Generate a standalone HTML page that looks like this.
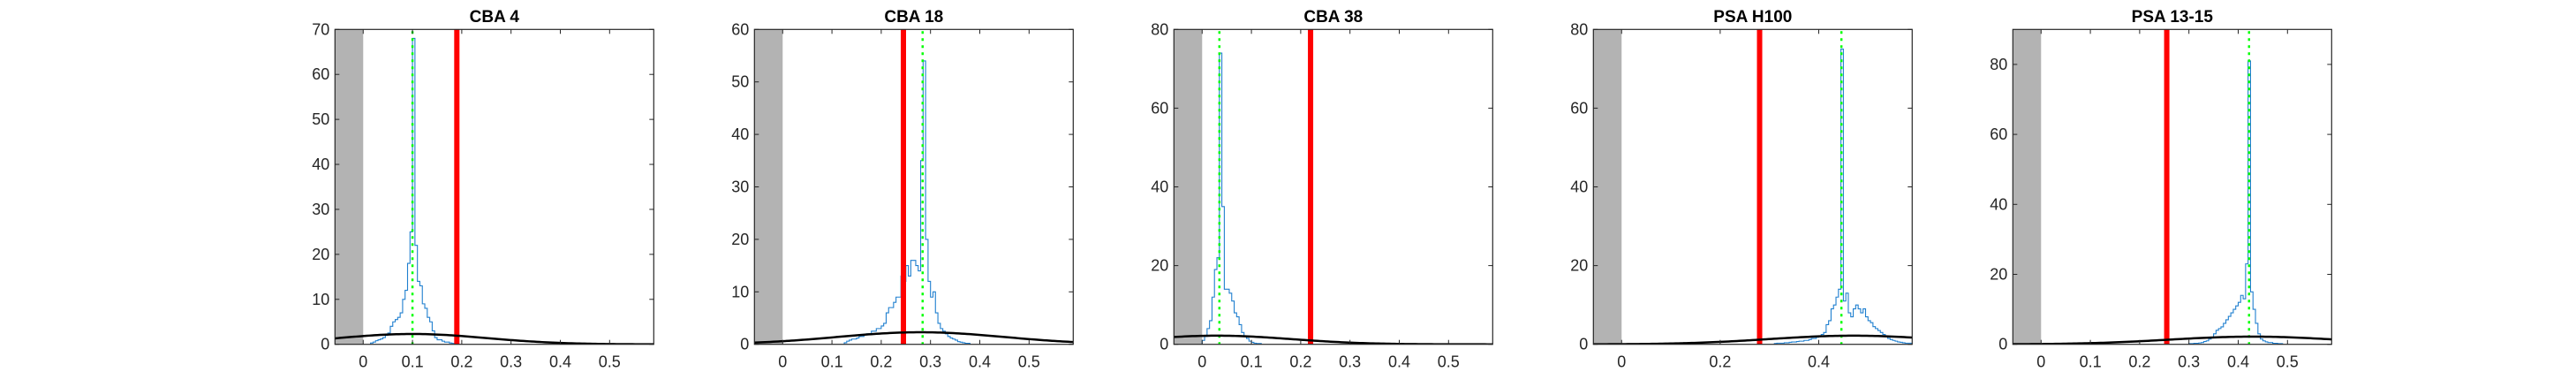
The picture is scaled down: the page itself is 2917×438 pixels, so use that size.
<!DOCTYPE html>
<html><head><meta charset="utf-8">
<style>
body{margin:0;background:#fff;}
svg{display:block;font-family:"Liberation Sans",Arial,sans-serif;}
</style></head>
<body>
<svg id="chart" width="2917" height="438" viewBox="0 0 2917 438"></svg>
<script>
// ---- data ----
const titles = ["CBA 4","CBA 18","CBA 38","PSA H100","PSA 13-15"];
const yMaxes = [70,60,80,80,90];
const yTickSets = [[0,10,20,30,40,50,60,70],[0,10,20,30,40,50,60],[0,20,40,60,80],[0,20,40,60,80],[0,20,40,60,80]];
const xTickSets = [[0,0.1,0.2,0.3,0.4,0.5],[0,0.1,0.2,0.3,0.4,0.5],[0,0.1,0.2,0.3,0.4,0.5],[0,0.2,0.4],[0,0.1,0.2,0.3,0.4,0.5]];
const redLines = [0.19,0.245,0.22,0.28,0.255];
const greenLines = [0.1,0.284,0.035,0.446,0.422];
const curveMeans = [0.1,0.28,0.03,0.47,0.43];
const curveSds = [0.15,0.17,0.15,0.17,0.17];
const curvePeaks = [2.3,2.3,2.2,2.2,2.2];
const binStarts = [0.015,0.125,0.0,0.31,0.30];
const binWidth = 0.005;
const counts1 = [0.3,0.5,0.8,1,1.2,1.5,2,2.5,4,5,5.5,6,7,10,12,18,25,68,22,14,13,9,8,6,5,3,1.5,1,1,0.7,0.5,0.5,0.3,0.2];
const counts2 = [0.3,0.6,0.8,1,1,1.2,1.5,1.5,1.8,2,2,2.5,2.5,3,3,3.5,4,6,7,7,8,9,9,13,12,15,13,16,16,15,14,35,54,20,12,9,10,6,4,3,2.5,2,1.5,1.2,1,0.8,0.5,0.4,0.3,0.2,0.2];
const counts3 = [1,2,4,6,12,19,22,74,35,14,14,13,11,8,7,5,3,2,1.5,0.8,0.5,0.3,0.2,0.2];
const counts4 = [0.2,0.3,0.3,0.3,0.4,0.4,0.5,0.6,0.6,0.7,0.8,0.8,1,1,1.2,1.5,1.5,1.8,2,2.5,3,5,6,9,10,12,14,75,11,13,8,7,9,10,9,8,9,7,6,5.5,4.5,4,3.5,3,2.5,2,1.5,1.2,1,0.8,0.6,0.5,0.4,0.3,0.3,0.3,0.2,0.2];
const counts5 = [0.2,0.2,0.3,0.3,0.4,0.5,0.8,1,1.5,2,3,4,4.5,5,6,7,8,9,10,11,12,14,13,23,81,15,10,6,3,1.5,1,0.7,0.5,0.5,0.3,0.3,0.2,0.2];
const allCounts = [counts1,counts2,counts3,counts4,counts5];
// ---- layout ----
const NS="http://www.w3.org/2000/svg";
const svg=document.getElementById('chart');
const plotLefts=[379.3,854.3,1329.3,1804.3,2279.3];
const plotW=361, plotTop=33.3, plotBottom=389.7;
const xMin=-0.0573, xMax=0.5896;
function mk(tag,attrs,parent){const e=document.createElementNS(NS,tag);for(const k in attrs)e.setAttribute(k,attrs[k]);(parent||svg).appendChild(e);return e;}
titles.forEach((t,i)=>{
  const L=plotLefts[i], R=L+plotW;
  const xs=v=>L+(v-xMin)/(xMax-xMin)*plotW;
  const ys=v=>plotBottom-Math.min(v,yMaxes[i])/yMaxes[i]*(plotBottom-plotTop);
  const g=mk('g',{});
  
  
  const clip=mk('clipPath',{id:'c'+i},g);
  mk('rect',{x:L,y:plotTop,width:plotW,height:plotBottom-plotTop},clip);
  const inner=mk('g',{'clip-path':'url(#c'+i+')'},g);
  const shade=mk('rect',{x:L,y:plotTop,width:xs(0)-L,height:plotBottom-plotTop,fill:'#b3b3b3'},inner);
  
  
  const c=allCounts[i]; let d='';
  c.forEach((v,k)=>{const x0=xs(binStarts[i]+k*binWidth),x1=xs(binStarts[i]+(k+1)*binWidth);d+=(k===0?'M'+x0+','+plotBottom+'L'+x0+','+ys(v):'L'+x0+','+ys(v))+'L'+x1+','+ys(v);});
  d+='L'+xs(binStarts[i]+c.length*binWidth)+','+plotBottom;
  const hist=mk('path',{d:d,fill:'none',stroke:'#1f7fcf','stroke-width':1.1},inner);
  
  
  const red=mk('line',{x1:xs(redLines[i]),x2:xs(redLines[i]),y1:plotTop,y2:plotBottom,stroke:'#ff0000','stroke-width':6},inner);
  
  
  const grn=mk('line',{x1:xs(greenLines[i]),x2:xs(greenLines[i]),y1:plotTop+2,y2:plotBottom,stroke:'#00ff00','stroke-width':2.5,'stroke-dasharray':'3 5'},inner);
  
  
  let cd='';
  for(let k=0;k<=120;k++){const xv=xMin+(xMax-xMin)*k/120;const yv=curvePeaks[i]*Math.exp(-0.5*Math.pow((xv-curveMeans[i])/curveSds[i],2));cd+=(k?'L':'M')+xs(xv)+','+ys(yv);}
  const cur=mk('path',{d:cd,fill:'none',stroke:'#000','stroke-width':2.5},inner);
  
  
  const box=mk('rect',{x:L,y:plotTop,width:plotW,height:plotBottom-plotTop,fill:'none',stroke:'#262626','stroke-width':1.2},g);
  
  
  xTickSets[i].forEach(tv=>{const x=xs(tv);
    mk('line',{x1:x,x2:x,y1:plotBottom,y2:plotBottom-5,stroke:'#262626','stroke-width':1},g);
    mk('line',{x1:x,x2:x,y1:plotTop,y2:plotTop+5,stroke:'#262626','stroke-width':1},g);
    const tx=mk('text',{x:x,y:plotBottom+26,'text-anchor':'middle','font-size':18,fill:'#262626'},g);
    tx.textContent=String(tv);
    
    
  });
  yTickSets[i].forEach(tv=>{const y=ys(tv);
    mk('line',{x1:L,x2:L+5,y1:y,y2:y,stroke:'#262626','stroke-width':1},g);
    mk('line',{x1:R,x2:R-5,y1:y,y2:y,stroke:'#262626','stroke-width':1},g);
    const ty=mk('text',{x:L-6,y:y+6,'text-anchor':'end','font-size':18,fill:'#262626'},g);
    ty.textContent=String(tv);
    
    
  });
  const tt=mk('text',{x:L+plotW/2,y:25,'text-anchor':'middle','font-size':19,'font-weight':'bold',fill:'#000'},g);
  tt.textContent=t;
  
  
});
</script>
</body></html>
